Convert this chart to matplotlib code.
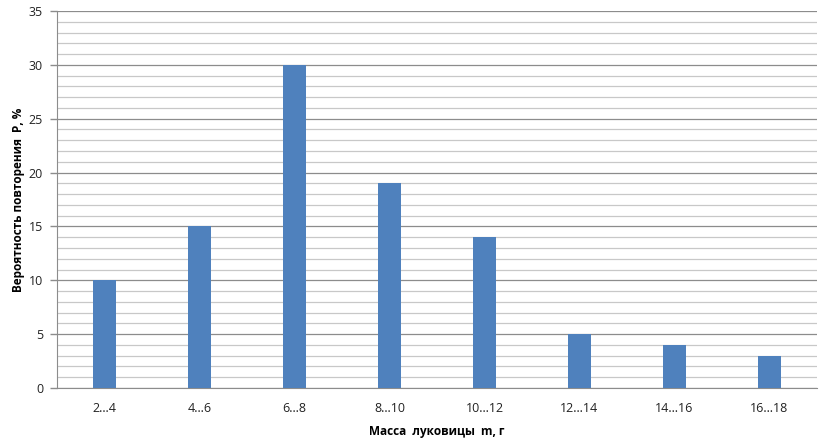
import matplotlib.pyplot as plt
import numpy as np
from matplotlib.ticker import MultipleLocator

plt.rcParams['font.family'] = ['Open Sans', 'DejaVu Sans']

categories = ["2…4", "4…6", "6…8", "8…10", "10…12", "12…14", "14…16", "16…18"]
values = [10, 15, 30, 19, 14, 5, 4, 3]

fig = plt.figure(figsize=(8.26, 4.41), dpi=100)
ax = fig.add_axes([57 / 826, 1 - 388 / 441, 760 / 826, 377 / 441])

x = np.arange(len(categories))
ax.bar(x, values, width=0.25, color="#4F81BD", zorder=3)

ax.set_xlim(-0.5, len(categories) - 0.5)
ax.set_ylim(0, 35)
ax.yaxis.set_major_locator(MultipleLocator(5))
ax.yaxis.set_minor_locator(MultipleLocator(1))
ax.grid(which="major", axis="y", color="#8C8C8C", linewidth=0.9, zorder=1)
ax.grid(which="minor", axis="y", color="#C8C8C8", linewidth=0.9, zorder=1)

ax.set_xticks(x)
ax.set_xticklabels(categories)
ax.tick_params(axis="x", length=0, pad=10, labelsize=9, colors="#222222")
ax.tick_params(axis="y", which="major", length=5, width=1, color="#8C8C8C",
               pad=5, labelsize=9, labelcolor="#222222")
ax.tick_params(axis="y", which="minor", length=0)

for side in ["top", "right"]:
    ax.spines[side].set_visible(False)
ax.spines["left"].set_color("#8C8C8C")
ax.spines["bottom"].set_color("#8C8C8C")

ax.set_xlabel("Масса  луковицы  m, г", fontsize=8.5, fontweight="bold", labelpad=7)
ax.set_ylabel("Вероятность повторения  Р, %", fontsize=8.5, fontweight="bold", labelpad=3)

fig.savefig("out.png", dpi=100)
